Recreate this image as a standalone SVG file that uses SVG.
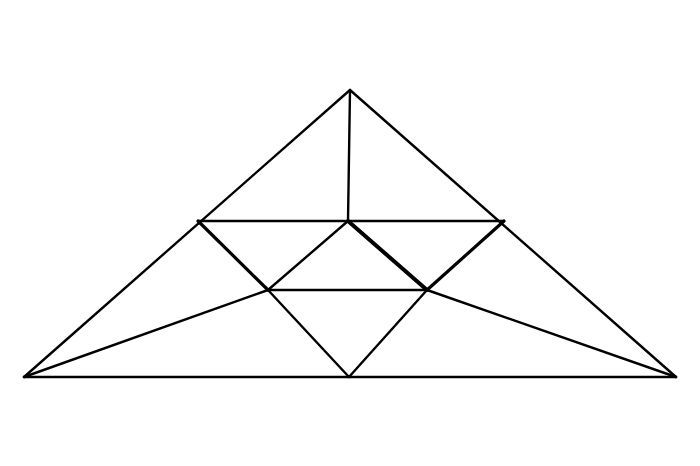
<svg xmlns="http://www.w3.org/2000/svg" width="700" height="466" viewBox="0 0 700 466">
<style>
line{stroke:#000;stroke-width:2.4;stroke-linecap:round}
.t{stroke-width:3.2}
.tt{stroke-width:4}
</style>
<rect width="700" height="466" fill="#fff"/>
<g id="connectors">
<line x1="350" y1="90" x2="24" y2="377"/>
<line x1="350" y1="90" x2="676" y2="377"/>
<line x1="24" y1="377" x2="676" y2="377"/>
<line x1="350" y1="90" x2="348" y2="221"/>
<line x1="198" y1="221" x2="504" y2="221"/>
<line class="t" x1="198" y1="221" x2="268" y2="290"/>
<line x1="348" y1="221" x2="268" y2="290"/>
<line class="tt" x1="348" y1="221" x2="427" y2="290"/>
<line class="t" x1="504" y1="221" x2="427" y2="290"/>
<line x1="268" y1="290" x2="427" y2="290"/>
<line x1="268" y1="290" x2="349" y2="377"/>
<line x1="427" y1="290" x2="349" y2="377"/>
<line x1="24" y1="377" x2="268" y2="290"/>
<line x1="676" y1="377" x2="427" y2="290"/>
</g>
</svg>
